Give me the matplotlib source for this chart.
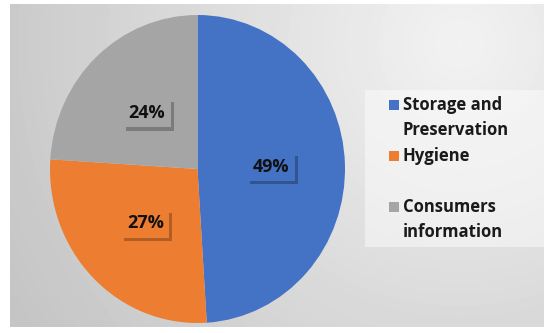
import numpy as np
import matplotlib.pyplot as plt
from matplotlib.patches import Rectangle
import matplotlib.patheffects as pe

categories = ["Storage and\nPreservation", "Hygiene", "Consumers\ninformation"]
shares = [49, 27, 24]
colors = ["#4472C4", "#ED7D31", "#A5A5A5"]

W, H = 544, 333
plt.rcParams['font.family'] = ['Open Sans', 'DejaVu Sans']

fig = plt.figure(figsize=(W / 100, H / 100), dpi=100)
fig.patch.set_facecolor('white')

# grey panel with a soft radial gradient, brightest towards the upper right
bg = fig.add_axes([10 / W, 6 / H, (W - 10) / W, (H - 10) / H])
yy, xx = np.mgrid[0:H - 10, 0:W - 10]
d = np.hypot(xx - 450, yy - 40) / 520
shade = 0.95 - 0.18 * np.clip(d, 0, 1)
bg.imshow(shade, cmap='gray', vmin=0, vmax=1, aspect='auto', interpolation='bilinear')
bg.axis('off')

# pie
ax = fig.add_axes([50 / W, 10 / H, 295 / W, 308 / H])
wedges, texts, autotexts = ax.pie(
    shares, colors=colors, startangle=90, counterclock=False,
    radius=1.0, pctdistance=0.5,
    autopct=lambda p: f"{p:.0f}%",
    textprops=dict(fontsize=13, fontweight='bold', color='#111111'))
ax.set_aspect('auto')
ax.set_xlim(-1, 1)
ax.set_ylim(-1, 1)
ax.axis('off')

for t, c in zip(autotexts, colors):
    t.set_bbox(dict(boxstyle='square,pad=0.3', facecolor=c, edgecolor='none'))
    t.get_bbox_patch().set_path_effects([
        pe.withSimplePatchShadow(offset=(2, -2.5), shadow_rgbFace='black', alpha=0.25),
        pe.Normal()])

# legend
fig.patches.append(Rectangle((365 / W, (H - 247) / H), (W - 365) / W, 157 / H,
                             transform=fig.transFigure, facecolor='white',
                             alpha=0.45, edgecolor='none', zorder=1))
for i, (lab, c) in enumerate(zip(categories, colors)):
    y0 = 105 + i * 51
    fig.patches.append(Rectangle((389 / W, (H - y0 - 5) / H), 10 / W, 10 / H,
                                 transform=fig.transFigure, facecolor=c,
                                 edgecolor='none', zorder=2))
    for j, line in enumerate(lab.split('\n')):
        fig.text(403 / W, (H - y0 - j * 25) / H, line, fontsize=12,
                 fontweight='bold', color='#1a1a1a', va='center', ha='left')

fig.savefig('out.png', dpi=100)
